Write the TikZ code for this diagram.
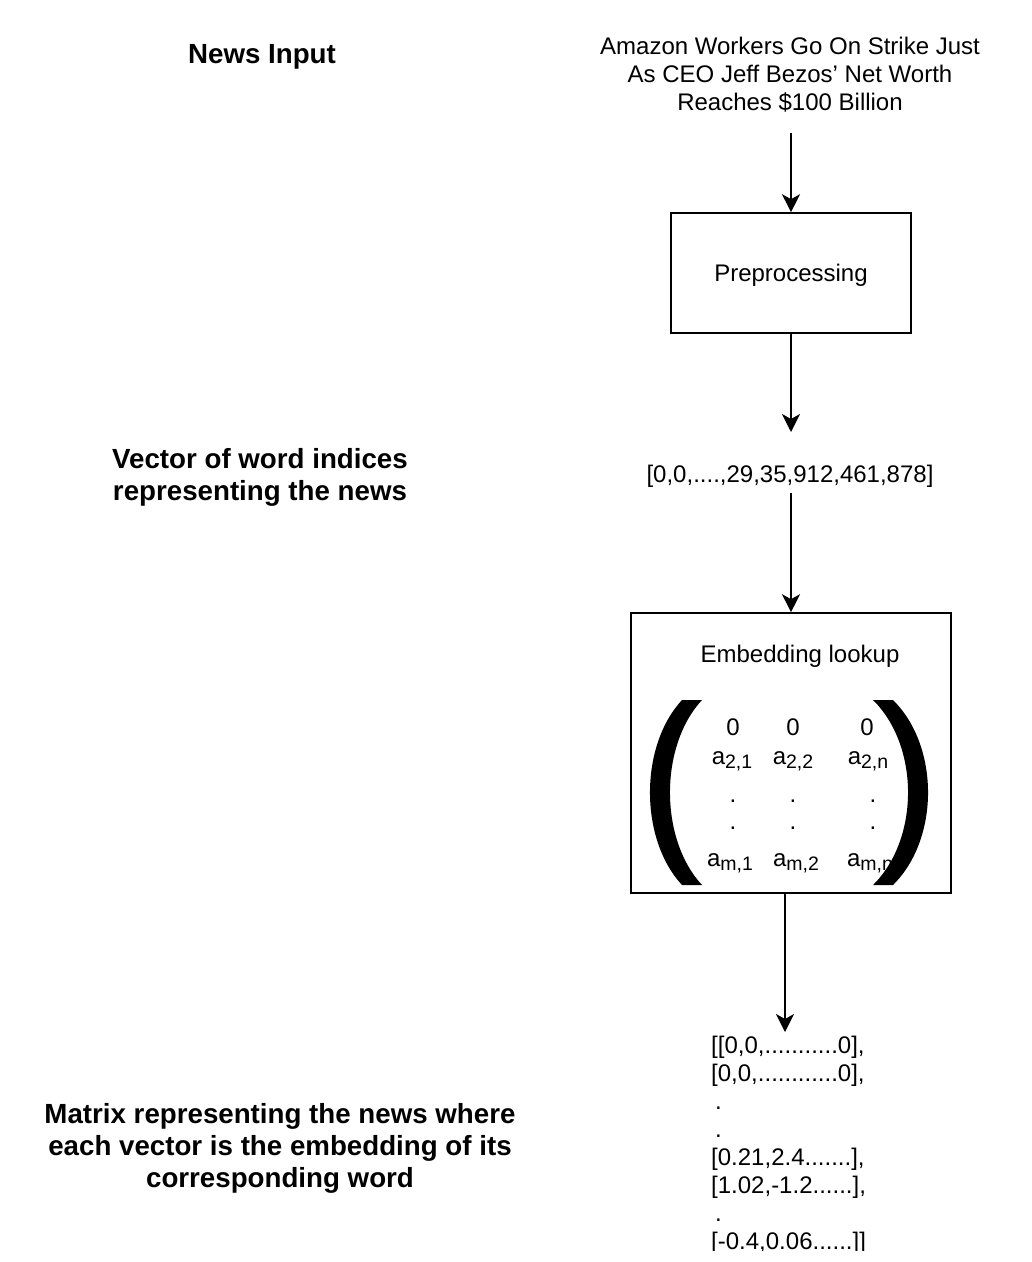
\documentclass[tikz,border=0pt]{standalone}
\usepackage{fontspec}
\setmainfont{Liberation Sans}
\usetikzlibrary{arrows.meta}
\begin{document}
\begin{tikzpicture}[x=1pt,y=-1pt,
  reg/.style={font=\fontsize{24}{28}\selectfont, inner sep=0pt, align=center},
  lbl/.style={font=\fontsize{27.7}{32}\selectfont\bfseries, inner sep=0pt, align=center},
  boxed/.style={draw, line width=1.6pt, inner sep=0pt, font=\fontsize{24}{28}\selectfont},
  ent/.style={font=\fontsize{24}{28}\selectfont, inner sep=0pt, anchor=base},
  arr/.style={line width=1.6pt, -{Stealth[length=18pt,width=18pt,inset=5pt]}},
  paren/.style={fill=black, draw=none}]
\useasboundingbox (0,0) rectangle (1032,1262);
\fill[white] (0,0) rectangle (1032,1262);
\newcommand{\sbs}[1]{\raisebox{-4pt}{\fontsize{19.5}{20}\selectfont #1}}

% left labels
\node[lbl] (lnews) at (262,57) {News Input};
\node[lbl] (lvec) at (260,477) {Vector of word indices\\representing the news};
\node[lbl] (lmat) at (280,1148) {Matrix representing the news where\\each vector is the embedding of its\\corresponding word};

% right flow
\node[reg] (head) at (790,75) {Amazon Workers Go On Strike Just\\As CEO Jeff Bezos’ Net Worth\\Reaches \$100 Billion};
\coordinate (headb) at (791,133);
\node[boxed, minimum width=240pt, minimum height=120pt, text height=17.5pt, text depth=0pt] (pre) at (791,273) {Preprocessing};
\coordinate (vecin) at (791,432);
\node[reg] (vec) at (790,476) {[0,0,....,29,35,912,461,878]};
\coordinate (vecb) at (791,493);
\node[boxed, minimum width=320pt, minimum height=280pt] (emb) at (791,753) {};
\node[reg] (embt) at (800,656) {Embedding lookup};
\coordinate (embo) at (785,893);
\coordinate (outin) at (785,1032);

% matrix entries
\node[ent] (m01) at (733,735) {0};
\node[ent] (m02) at (793,735) {0};
\node[ent] (m03) at (867,735) {0};
\node[ent] (m21) at (732,764) {a\sbs{2,1}};
\node[ent] (m22) at (793,764) {a\sbs{2,2}};
\node[ent] (m23) at (868,764) {a\sbs{2,n}};
\node[ent] (d11) at (733,802) {.};
\node[ent] (d12) at (793,802) {.};
\node[ent] (d13) at (873,802) {.};
\node[ent] (d21) at (733,829) {.};
\node[ent] (d22) at (793,829) {.};
\node[ent] (d23) at (873,829) {.};
\node[ent] (mm1) at (730,866) {a\sbs{m,1}};
\node[ent] (mm2) at (796,866) {a\sbs{m,2}};
\node[ent] (mm3) at (870,866) {a\sbs{m,n}};

% parentheses
\fill[paren] (682,700) .. controls (639.3,746) and (639.3,839) .. (682,885)
  -- (702,885) .. controls (659.3,839) and (659.3,746) .. (702,700) -- cycle;
\fill[paren] (893,700) .. controls (939.7,746) and (939.7,839) .. (893,885)
  -- (873,885) .. controls (919.7,839) and (919.7,746) .. (873,700) -- cycle;

% output matrix text
\begin{scope}
\clip (0,0) rectangle (1032,1250);
\node[reg, align=left, anchor=north west] (out) at (711,1036) {[[0,0,...........0],\\{}[0,0,............0],\\\hspace*{4pt}.\\\hspace*{4pt}.\\{}[0.21,2.4.......],\\{}[1.02,-1.2......],\\\hspace*{4pt}.\\{}[-0.4,0.06......]]};
\end{scope}

% arrows
\draw[arr] (headb) -- (pre.north);
\draw[arr] (pre.south) -- (vecin);
\draw[arr] (vecb) -- (emb.north);
\draw[arr] (embo) -- (outin);
\end{tikzpicture}
\end{document}
